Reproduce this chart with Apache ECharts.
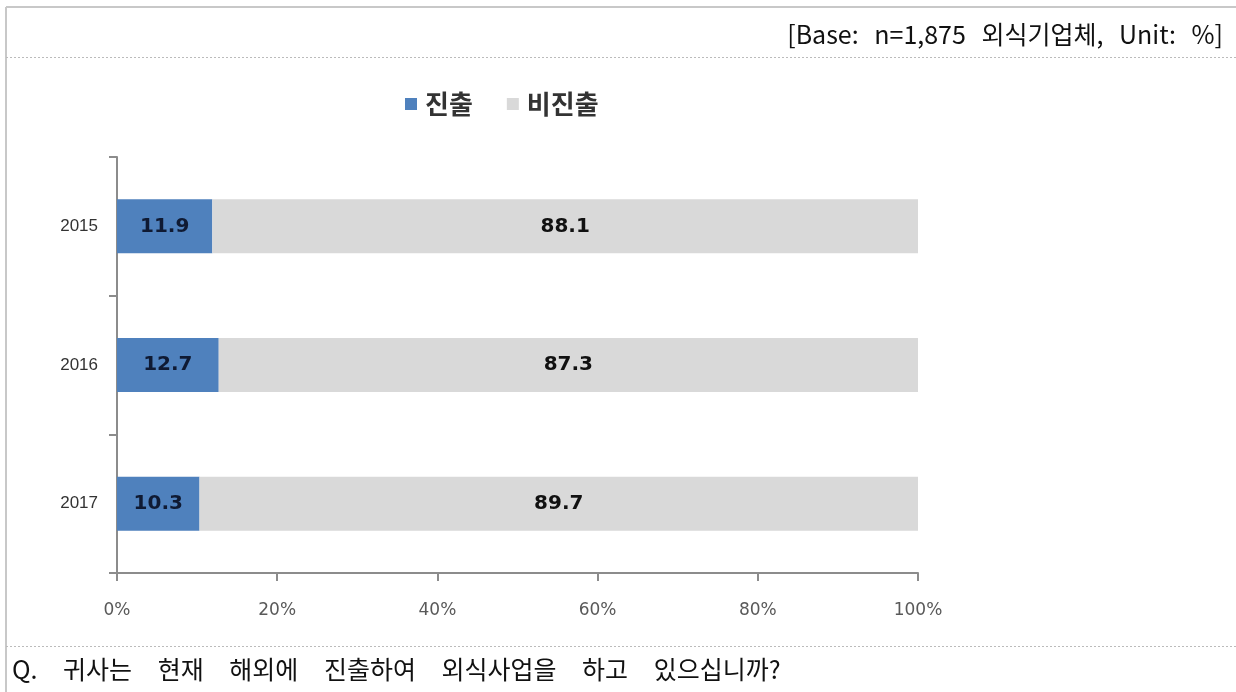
<!DOCTYPE html>
<html><head><meta charset="utf-8">
<script src="https://cdn.jsdelivr.net/npm/echarts@6/dist/echarts.min.js"></script>
<style>
html,body{margin:0;padding:0;background:#fff}
#wrap{position:relative;width:1236px;height:692px;overflow:hidden}
#c{position:absolute;left:0;top:0;width:1236px;height:692px}
.txt{position:absolute;font-family:"Noto Sans CJK KR","Noto Sans",sans-serif;color:#111;white-space:nowrap;line-height:30px}
#hdr{right:13px;top:18px;font-size:25px;word-spacing:10px}
#ftr{left:12px;top:653px;font-size:25px;word-spacing:20px}
</style>
</head><body><div id="wrap"><div id="c"></div><div id="hdr" class="txt"></div><div id="ftr" class="txt"></div></div>
<script>
const years = ['2015', '2016', '2017'];
const advance = [11.9, 12.7, 10.3];
const noAdvance = [88.1, 87.3, 89.7];
const xTicks = [0, 20, 40, 60, 80, 100];
const seriesNames = ['진출', '비진출'];
const headerText = '[Base: n=1,875 외식기업체, Unit: %]';
const footerText = 'Q. 귀사는 현재 해외에 진출하여 외식사업을 하고 있으십니까?';

document.getElementById('hdr').textContent = headerText;
document.getElementById('ftr').textContent = footerText;

const chart = echarts.init(document.getElementById('c'), null, {renderer: 'canvas'});
const krFont = '"Noto Sans CJK KR", "Noto Sans", sans-serif';
const axFont = '"DejaVu Sans", "Liberation Sans", sans-serif';

chart.setOption({
  backgroundColor: 'transparent',
  animation: false,
  legend: {
    data: seriesNames,
    top: 86, left: 400,
    itemWidth: 12, itemHeight: 12, itemGap: 34,
    icon: 'rect',
    textStyle: {fontFamily: krFont, fontSize: 26, fontWeight: 'bold', color: '#333', padding: [0, 0, 0, 3]}
  },
  grid: {left: 117, right: 318, top: 157, bottom: 119, containLabel: false},
  xAxis: {
    type: 'value', min: xTicks[0], max: xTicks[xTicks.length - 1], interval: xTicks[1] - xTicks[0],
    axisLine: {show: true, lineStyle: {color: '#8c8c8c', width: 2}},
    axisTick: {show: true, length: 8, lineStyle: {color: '#8c8c8c', width: 2}},
    splitLine: {show: false},
    axisLabel: {formatter: '{value}%', margin: 29, fontFamily: axFont, fontSize: 17, color: '#595959'}
  },
  yAxis: {
    type: 'category', inverse: true, data: years,
    axisLine: {show: true, lineStyle: {color: '#8c8c8c', width: 2}},
    axisTick: {show: true, length: 8, lineStyle: {color: '#8c8c8c', width: 2}},
    axisLabel: {margin: 19, fontFamily: '"Liberation Sans", sans-serif', fontSize: 17, color: '#333'}
  },
  series: [
    {
      name: seriesNames[0], type: 'bar', stack: 't', data: advance, barWidth: '39%',
      itemStyle: {color: '#4F81BD'},
      label: {show: true, position: 'inside', formatter: p => p.value.toFixed(1),
        fontFamily: axFont, fontSize: 20, fontWeight: 'bold', color: '#0f1a33'}
    },
    {
      name: seriesNames[1], type: 'bar', stack: 't', data: noAdvance, barWidth: '39%',
      itemStyle: {color: '#D9D9D9'},
      label: {show: true, position: 'inside', formatter: p => p.value.toFixed(1),
        fontFamily: axFont, fontSize: 20, fontWeight: 'bold', color: '#111'}
    }
  ],
  graphic: [
    {type: 'line', shape: {x1: 6, y1: 7, x2: 1236, y2: 7}, style: {stroke: '#c8c8c8', lineWidth: 2}, silent: true},
    {type: 'line', shape: {x1: 6, y1: 7, x2: 6, y2: 692}, style: {stroke: '#c8c8c8', lineWidth: 2}, silent: true},
    {type: 'line', shape: {x1: 6, y1: 57.5, x2: 1236, y2: 57.5}, style: {stroke: '#bbb', lineWidth: 1, lineDash: [2, 2]}, silent: true},
    {type: 'line', shape: {x1: 6, y1: 646.5, x2: 1236, y2: 646.5}, style: {stroke: '#bbb', lineWidth: 1, lineDash: [2, 2]}, silent: true}
  ]
});
</script></body></html>
